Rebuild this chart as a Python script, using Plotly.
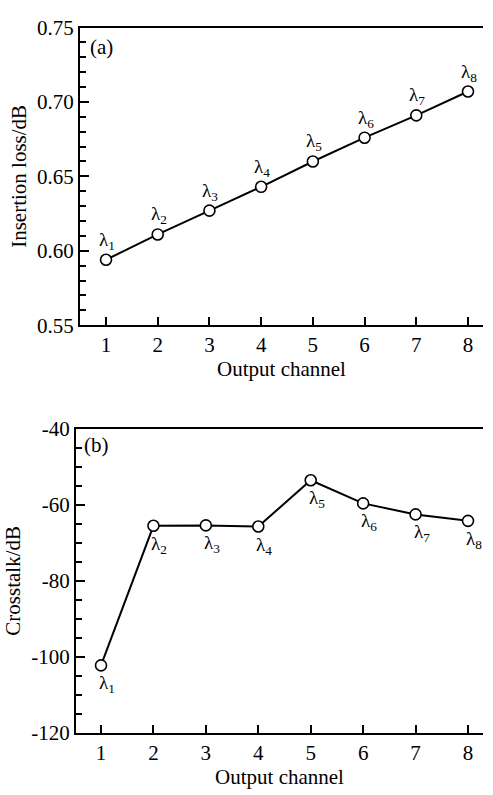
import plotly.graph_objects as go

channels = [1, 2, 3, 4, 5, 6, 7, 8]
insertion_loss = [0.594, 0.611, 0.627, 0.643, 0.660, 0.676, 0.691, 0.707]
crosstalk = [-102.3, -65.5, -65.4, -65.7, -53.5, -59.6, -62.5, -64.2]
labels = ["λ<sub>%d</sub>" % c for c in channels]
il_ticks = [0.55, 0.60, 0.65, 0.70, 0.75]
ct_ticks = [-120, -100, -80, -60, -40]

FONT = "Liberation Serif"
W, H = 493, 795
XR = 483  # right end of the plot area, px

fig = go.Figure()
fig.add_trace(go.Scatter(x=channels, y=insertion_loss, mode="lines+markers",
                         line=dict(color="black", width=2),
                         marker=dict(symbol="circle", size=11, color="white",
                                     line=dict(color="black", width=1.6)),
                         xaxis="x", yaxis="y", showlegend=False))
fig.add_trace(go.Scatter(x=channels, y=crosstalk, mode="lines+markers",
                         line=dict(color="black", width=2),
                         marker=dict(symbol="circle", size=11, color="white",
                                     line=dict(color="black", width=1.6)),
                         xaxis="x2", yaxis="y2", showlegend=False))

ann = []
for c, v, t in zip(channels, insertion_loss, labels):
    ann.append(dict(x=c, y=v, xref="x", yref="y", text=t, showarrow=False,
                    xanchor="center", yanchor="middle", xshift=1, yshift=19,
                    font=dict(family=FONT, size=19, color="black")))
for c, v, t in zip(channels, crosstalk, labels):
    ann.append(dict(x=c, y=v, xref="x2", yref="y2", text=t, showarrow=False,
                    xanchor="center", yanchor="middle", xshift=6, yshift=-19,
                    font=dict(family=FONT, size=19, color="black")))
ann.append(dict(x=0, y=1, xref="x domain", yref="y domain", text="(a)", showarrow=False,
                xanchor="left", yanchor="top", xshift=8, yshift=-5,
                font=dict(family=FONT, size=21, color="black")))
ann.append(dict(x=0, y=1, xref="x2 domain", yref="y2 domain", text="(b)", showarrow=False,
                xanchor="left", yanchor="top", xshift=6, yshift=-2,
                font=dict(family=FONT, size=21, color="black")))

xcommon = dict(tickmode="array", tickvals=channels, ticks="inside", ticklen=8, tickwidth=2,
               tickcolor="black", showline=True, linecolor="black", linewidth=2,
               mirror=True, showgrid=False, zeroline=False,
               tickfont=dict(family=FONT, size=21, color="black"),
               title=dict(text="Output channel", font=dict(family=FONT, size=21, color="black"),
                          standoff=3))
fig.update_layout(
    width=W, height=H, margin=dict(l=0, r=0, t=0, b=0),
    paper_bgcolor="white", plot_bgcolor="white",
    xaxis=dict(domain=[80 / W, XR / W], range=[1 - 26 / 51.7, 8 + (XR - 468) / 51.7],
               anchor="y", **xcommon),
    xaxis2=dict(domain=[76 / W, XR / W], range=[1 - 25 / 52.4, 8 + (XR - 468) / 52.4],
                anchor="y2", **xcommon),
    yaxis=dict(domain=[(H - 323) / H, (H - 16) / H], range=[0.55, 0.75], anchor="x",
               tickmode="array", tickvals=il_ticks, ticktext=["%.2f" % v for v in il_ticks],
               ticks="inside", ticklen=9, tickwidth=2, tickcolor="black",
               minor=dict(tickmode="linear", tick0=0.55, dtick=0.01, ticks="inside", ticklen=6,
                          tickwidth=2, tickcolor="black"),
               showline=True, linecolor="black", linewidth=2,
               showgrid=False, zeroline=False,
               tickfont=dict(family=FONT, size=21, color="black"),
               title=dict(text="Insertion loss/dB", font=dict(family=FONT, size=21, color="black"),
                          standoff=5)),
    yaxis2=dict(domain=[(H - 743) / H, (H - 430) / H], range=[-120, -40], anchor="x2",
                tickmode="array", tickvals=ct_ticks, ticktext=["%d" % v for v in ct_ticks],
                ticks="inside", ticklen=9, tickwidth=2, tickcolor="black",
                minor=dict(tickmode="linear", tick0=-120, dtick=5, ticks="inside", ticklen=6,
                           tickwidth=2, tickcolor="black"),
                showline=True, linecolor="black", linewidth=2,
                showgrid=False, zeroline=False,
                tickfont=dict(family=FONT, size=21, color="black"),
                title=dict(text="Crosstalk/dB", font=dict(family=FONT, size=21, color="black"),
                           standoff=5)),
    annotations=ann,
)
fig.write_html("out.html")
